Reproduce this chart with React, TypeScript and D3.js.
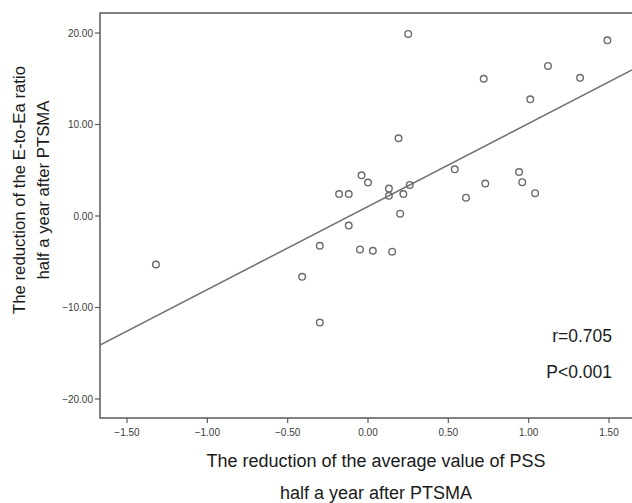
import * as d3 from "d3";

const WIDTH = 632;
const HEIGHT = 503;
// plot frame (right side runs off the picture)
const FRAME = { left: 100, top: 13, right: 640, bottom: 418 };

// reduction of average PSS value (x) vs reduction of E-to-Ea ratio (y)
const pssReduction = [
  0.25, 1.49, 1.12, 0.72, 1.32, 1.01, 0.19, 0.54, -0.04, 0.0,
  0.94, 0.96, 0.73, 0.13, 0.26, -0.18, -0.12, 0.13, 0.22, 1.04,
  0.61, 0.2, -0.12, -0.05, 0.03, 0.15, -1.32, -0.3, -0.41, -0.3,
];
const eEaReduction = [
  19.9, 19.2, 16.4, 15.0, 15.1, 12.75, 8.5, 5.1, 4.45, 3.65,
  4.8, 3.7, 3.55, 3.0, 3.4, 2.4, 2.4, 2.2, 2.4, 2.5,
  2.0, 0.25, -1.05, -3.65, -3.8, -3.9, -5.3, -3.25, -6.65, -11.65,
];

const xTicks = [-1.5, -1.0, -0.5, 0.0, 0.5, 1.0, 1.5];
const yTicks = [20, 10, 0, -10, -20];

// fit line
const FIT_INTERCEPT = 1.04;
const FIT_SLOPE = 9.08;

const statLines = ["r=0.705", "P<0.001"];
const xTitle = ["The reduction of the average value of PSS", "half a year after PTSMA"];
const yTitle = ["The reduction of the E-to-Ea ratio", "half a year after PTSMA"];

const FONT = "'Liberation Sans', Arial, sans-serif";
const AXIS_COLOR = "#5a5a5a";
const MARK_COLOR = "#6a6a6a";

export default function App() {
  const xScale = d3.scaleLinear().domain([-1.5, 1.5]).range([127, 609]);
  const yScale = d3.scaleLinear().domain([-20, 20]).range([399, 33]);

  const data = pssReduction.map((x, i) => ({ x, y: eEaReduction[i] }));

  const fitX = [xScale.invert(FRAME.left), xScale.invert(WIDTH)];
  const fitLine = d3
    .line<number>()
    .x((d) => xScale(d))
    .y((d) => yScale(FIT_INTERCEPT + FIT_SLOPE * d))(fitX);

  const fmt = d3.format(".2f");

  return (
    <svg
      width={WIDTH}
      height={HEIGHT}
      style={{ position: "absolute", left: 0, top: 0, background: "#fff" }}
      fontFamily={FONT}
    >
      <rect x={0} y={0} width={WIDTH} height={HEIGHT} fill="#fff" />

      {/* frame */}
      <rect
        x={FRAME.left}
        y={FRAME.top}
        width={FRAME.right - FRAME.left}
        height={FRAME.bottom - FRAME.top}
        fill="none"
        stroke={AXIS_COLOR}
        strokeWidth={1.5}
      />

      {/* y axis ticks */}
      {yTicks.map((t) => (
        <g key={t}>
          <line
            x1={FRAME.left - 5}
            x2={FRAME.left}
            y1={yScale(t)}
            y2={yScale(t)}
            stroke={AXIS_COLOR}
            strokeWidth={1.2}
          />
          <text
            x={FRAME.left - 7}
            y={yScale(t)}
            dy="0.35em"
            textAnchor="end"
            fontSize={10}
            fill="#3a3a3a"
          >
            {fmt(t)}
          </text>
        </g>
      ))}

      {/* x axis ticks */}
      {xTicks.map((t) => (
        <g key={t}>
          <line
            x1={xScale(t)}
            x2={xScale(t)}
            y1={FRAME.bottom}
            y2={FRAME.bottom + 5}
            stroke={AXIS_COLOR}
            strokeWidth={1.2}
          />
          <text
            x={xScale(t)}
            y={FRAME.bottom + 18}
            textAnchor="middle"
            fontSize={10}
            fill="#3a3a3a"
          >
            {fmt(t)}
          </text>
        </g>
      ))}

      <clipPath id="plot-clip">
        <rect
          x={FRAME.left}
          y={FRAME.top}
          width={FRAME.right - FRAME.left}
          height={FRAME.bottom - FRAME.top}
        />
      </clipPath>

      <path
        d={fitLine ?? ""}
        fill="none"
        stroke="#707070"
        strokeWidth={1.5}
        clipPath="url(#plot-clip)"
      />

      {data.map((d, i) => (
        <circle
          key={i}
          cx={xScale(d.x)}
          cy={yScale(d.y)}
          r={3.3}
          fill="none"
          stroke={MARK_COLOR}
          strokeWidth={1.4}
        />
      ))}

      {statLines.map((s, i) => (
        <text
          key={s}
          x={612}
          y={342 + i * 36}
          textAnchor="end"
          fontSize={17.5}
          fill="#1a1a1a"
        >
          {s}
        </text>
      ))}

      {xTitle.map((s, i) => (
        <text
          key={s}
          x={376}
          y={467 + i * 32}
          textAnchor="middle"
          fontSize={18}
          fill="#1a1a1a"
        >
          {s}
        </text>
      ))}

      {yTitle.map((s, i) => (
        <text
          key={s}
          transform={`translate(${25 + i * 24},190) rotate(-90)`}
          textAnchor="middle"
          fontSize={16.8}
          fill="#1a1a1a"
        >
          {s}
        </text>
      ))}
    </svg>
  );
}
